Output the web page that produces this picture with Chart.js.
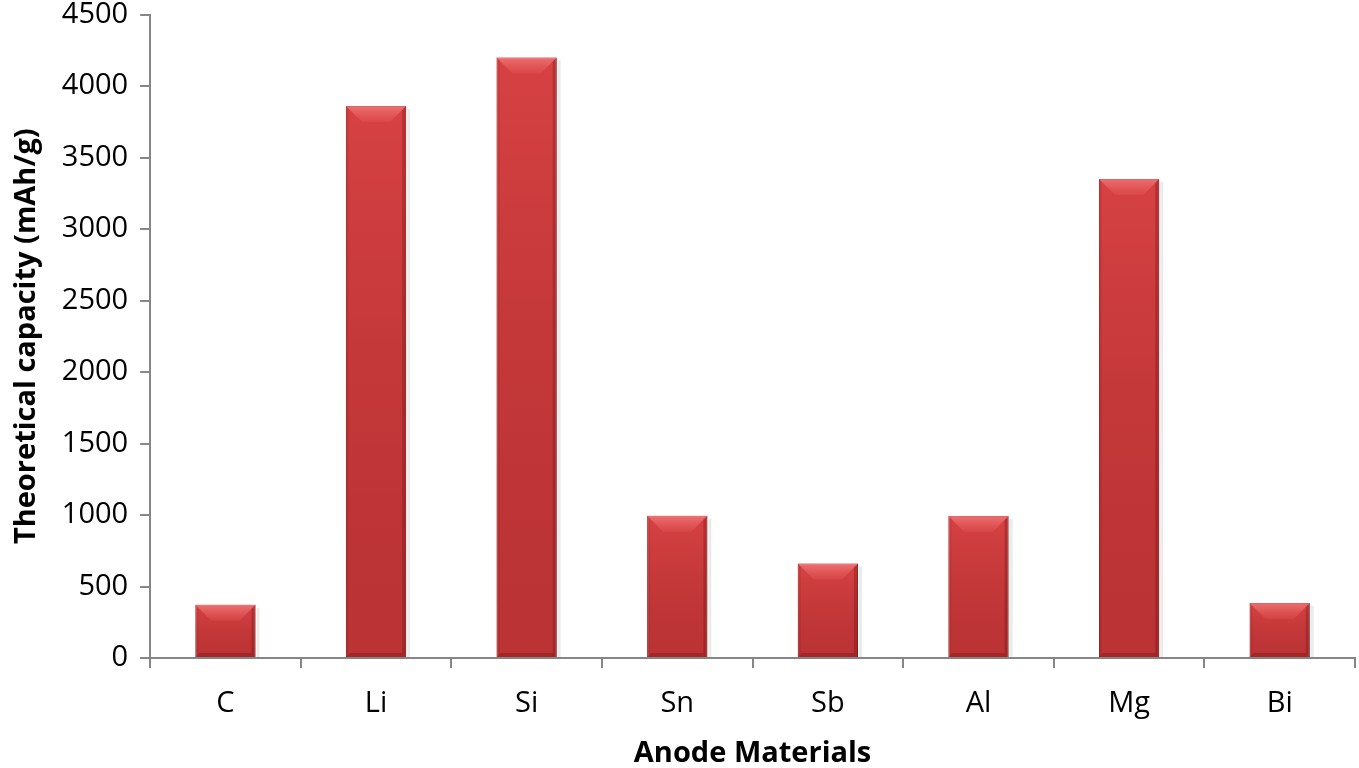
<!DOCTYPE html>
<html>
<head>
<meta charset="utf-8">
<script src="https://cdn.jsdelivr.net/npm/chart.js@4"></script>
<style>
  html, body { margin: 0; padding: 0; background: #fff; overflow: hidden; }
  #wrap { width: 1359px; height: 768px; overflow: hidden; }
  #chart { margin-top: -12px; display: block; }
</style>
</head>
<body>
<div id="wrap"><canvas id="chart" width="1359" height="780"></canvas></div>
<script>
const materials = ['C', 'Li', 'Si', 'Sn', 'Sb', 'Al', 'Mg', 'Bi'];
const capacity = [372, 3860, 4200, 994, 660, 993, 3350, 385];
const yTicks = { min: 0, max: 4500, step: 500 };

const axisGrey = '#868686';

// bevel and shading of the office-style bars, drawn over each bar element
const bevelPlugin = {
	id: 'bevel',
	afterDatasetsDraw(chart) {
		const { ctx } = chart;
		chart.getDatasetMeta(0).data.forEach((bar) => {
			const { x, y, base, width } = bar.getProps(['x', 'y', 'base', 'width'], true);
			const l = x - width / 2, r = x + width / 2;
			const b = Math.min(16, (base - y) / 3);

			ctx.save();
			// body shading, lighter at top, darker at bottom
			const body = ctx.createLinearGradient(0, y, 0, base);
			body.addColorStop(0, 'rgba(255,90,90,0.25)');
			body.addColorStop(1, 'rgba(90,0,0,0.12)');
			ctx.fillStyle = body;
			ctx.fillRect(l, y, width, base - y);
			// top facet
			const g = ctx.createLinearGradient(0, y, 0, y + b);
			g.addColorStop(0, 'rgba(255,150,150,0.55)');
			g.addColorStop(1, 'rgba(255,120,120,0.12)');
			ctx.fillStyle = g;
			ctx.beginPath();
			ctx.moveTo(l, y); ctx.lineTo(r, y); ctx.lineTo(r - b, y + b); ctx.lineTo(l + b, y + b);
			ctx.closePath(); ctx.fill();
			// left facet
			ctx.fillStyle = 'rgba(120,0,0,0.10)';
			ctx.beginPath();
			ctx.moveTo(l, y); ctx.lineTo(l + 3, y + 3); ctx.lineTo(l + 3, base - 3); ctx.lineTo(l, base);
			ctx.closePath(); ctx.fill();
			// right facet
			ctx.fillStyle = 'rgba(90,0,0,0.25)';
			ctx.beginPath();
			ctx.moveTo(r, y); ctx.lineTo(r - 4, y + 4); ctx.lineTo(r - 4, base - 4); ctx.lineTo(r, base);
			ctx.closePath(); ctx.fill();
			// bottom facet
			ctx.fillStyle = 'rgba(90,0,0,0.25)';
			ctx.beginPath();
			ctx.moveTo(l, base); ctx.lineTo(r, base); ctx.lineTo(r - 4, base - 4); ctx.lineTo(l + 4, base - 4);
			ctx.closePath(); ctx.fill();
			// soft shadow to the right
			ctx.fillStyle = 'rgba(0,0,0,0.08)';
			ctx.fillRect(r + 1, y + 3, 3, base - y - 3);
			ctx.restore();
		});
	}
};

new Chart(document.getElementById('chart'), {
	type: 'bar',
	data: {
		labels: materials,
		datasets: [{
			data: capacity,
			backgroundColor: '#c93a3c',
			borderColor: '#9e2628',
			borderWidth: 1,
			categoryPercentage: 1,
			barPercentage: 0.4
		}]
	},
	options: {
		responsive: false,
		animation: false,
		layout: { padding: { left: 9, right: 4, top: 0, bottom: 0 } },
		plugins: {
			legend: { display: false },
			tooltip: { enabled: false }
		},
		scales: {
			x: {
				offset: true,
				border: { color: axisGrey, width: 2 },
				grid: { display: true, offset: true, drawOnChartArea: false, tickLength: 10, color: axisGrey, lineWidth: 2 },
				ticks: { color: '#000', font: { family: 'Open Sans', size: 29, lineHeight: 1 }, padding: 21 },
				title: { display: true, text: 'Anode Materials', color: '#000', font: { family: 'Open Sans', size: 29, weight: 'bold', lineHeight: 1 }, padding: { top: 0, bottom: 0 } }
			},
			y: {
				min: yTicks.min,
				max: yTicks.max,
				border: { color: axisGrey, width: 2 },
				grid: { display: true, drawOnChartArea: false, tickLength: 10, color: axisGrey, lineWidth: 2 },
				ticks: {
					stepSize: yTicks.step, color: '#000',
					font: { family: 'Open Sans', size: 29, lineHeight: 1 }, padding: 12,
					callback: (v) => String(v)
				},
				title: { display: true, text: 'Theoretical capacity (mAh/g)', color: '#000', font: { family: 'Open Sans', size: 29, weight: 'bold' }, padding: { top: 0, bottom: 6 } }
			}
		}
	},
	plugins: [bevelPlugin]
});
</script>
</body>
</html>
